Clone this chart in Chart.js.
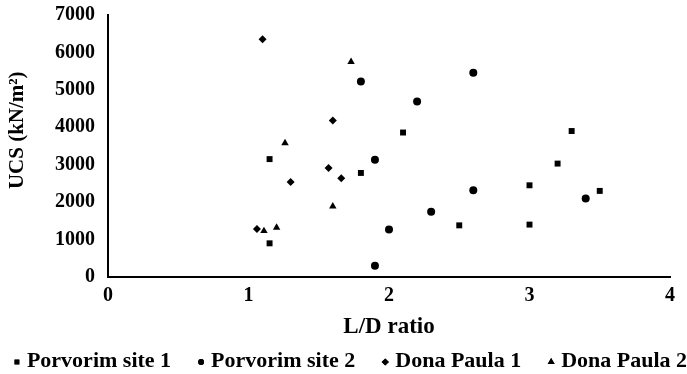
<!DOCTYPE html>
<html>
<head>
<meta charset="utf-8">
<script src="https://cdn.jsdelivr.net/npm/chart.js@4.4.1/dist/chart.umd.min.js"></script>
<style>
  html, body { margin: 0; padding: 0; background: #fff; }
  #wrap { width: 687px; height: 374px; position: relative; }
</style>
</head>
<body>
<div id="wrap"><canvas id="ucsChart"></canvas></div>
<script>
// L/D ratio (x) and UCS in kN/m2 (y) for each site
const porvorim1X = [1.15, 1.15, 1.8, 2.1, 2.5, 3.0, 3.0, 3.2, 3.3, 3.5];
const porvorim1Y = [900, 3150, 2780, 3860, 1380, 1400, 2450, 3030, 3900, 2300];

const porvorim2X = [1.9, 1.9, 1.8, 2.0, 2.2, 2.3, 2.6, 2.6, 3.4];
const porvorim2Y = [300, 3130, 5220, 1270, 4690, 1740, 5460, 2320, 2100];

const donaPaula1X = [1.06, 1.1, 1.3, 1.57, 1.6, 1.66];
const donaPaula1Y = [1280, 6350, 2540, 2910, 4180, 2640];

const donaPaula2X = [1.11, 1.2, 1.26, 1.6, 1.73];
const donaPaula2Y = [1230, 1320, 3580, 1890, 5750];

const seriesNames = ["Porvorim site 1", "Porvorim site 2", "Dona Paula 1", "Dona Paula 2"];
const seriesStyles = ["rect", "circle", "rectRot", "triangle"];

const FONT = '"Liberation Serif", "Times New Roman", serif';

function toPoints(xs, ys) {
  let pts = [];
  for (let i = 0; i < xs.length; i++) {
    pts.push({ x: xs[i], y: ys[i] });
  }
  return pts;
}

const markerRadius = { rect: 4.2, circle: 4, rectRot: 4, triangle: 4.3 };
const legendRadius = { rect: 3.4, circle: 2.9, rectRot: 3.6, triangle: 4 };

const allSeries = [
  toPoints(porvorim1X, porvorim1Y),
  toPoints(porvorim2X, porvorim2Y),
  toPoints(donaPaula1X, donaPaula1Y),
  toPoints(donaPaula2X, donaPaula2Y),
];

const datasets = allSeries.map((pts, i) => ({
  label: seriesNames[i],
  data: pts,
  pointStyle: seriesStyles[i],
  pointRadius: markerRadius[seriesStyles[i]],
  pointHoverRadius: markerRadius[seriesStyles[i]],
  pointBackgroundColor: "#000",
  pointBorderColor: "#000",
  pointBorderWidth: 0,
}));

// legend row drawn under the axis title
const bottomLegend = {
  id: "bottomLegend",
  afterDraw(chart) {
    const ctx = chart.ctx;
    ctx.save();
    ctx.font = "bold 22px " + FONT;
    ctx.fillStyle = "#000";
    ctx.textBaseline = "middle";
    const markerGap = 10;
    const itemGap = 30;
    const widths = seriesNames.map((n) => ctx.measureText(n).width);
    let rowWidth = markerGap * seriesNames.length + itemGap * (seriesNames.length - 1);
    widths.forEach((w) => (rowWidth += w));
    let x = 352 - rowWidth / 2;
    const y = 361;
    for (let i = 0; i < seriesNames.length; i++) {
      Chart.helpers.drawPoint(
        ctx,
        { pointStyle: seriesStyles[i], radius: legendRadius[seriesStyles[i]], borderWidth: 0 },
        x,
        y + 1
      );
      ctx.fill();
      ctx.fillText(seriesNames[i], x + markerGap, y);
      x += markerGap + widths[i] + itemGap;
    }
    ctx.restore();
  },
};

new Chart(document.getElementById("ucsChart"), {
  type: "scatter",
  data: { datasets: datasets },
  plugins: [bottomLegend],
  options: {
    responsive: true,
    maintainAspectRatio: false,
    animation: false,
    events: [],
    layout: { padding: { top: 15, right: 17, bottom: 0, left: 0 } },
    plugins: {
      legend: { display: false },
      tooltip: { enabled: false },
    },
    scales: {
      x: {
        type: "linear",
        min: 0,
        max: 4,
        afterFit: (scale) => {
          scale.height = 97;
        },
        ticks: {
          stepSize: 1,
          padding: 7,
          color: "#000",
          font: { family: FONT, size: 20, weight: "bold" },
        },
        grid: { display: false, drawTicks: false },
        border: { display: true, color: "#000", width: 2 },
        title: {
          display: true,
          text: "L/D ratio",
          color: "#000",
          font: { family: FONT, size: 23, weight: "bold", lineHeight: 1.2 },
          padding: { top: 0, bottom: 33 },
        },
      },
      y: {
        min: 0,
        max: 7000,
        afterFit: (scale) => {
          scale.width = 108;
          // tick padding should not push the plot area down
          scale.paddingTop = 0;
          scale.paddingBottom = 0;
        },
        ticks: {
          stepSize: 1000,
          padding: 13,
          color: "#000",
          font: { family: FONT, size: 20, weight: "bold" },
          callback: (value) => String(value),
        },
        grid: { display: false, drawTicks: false },
        border: { display: true, color: "#000", width: 2 },
        title: {
          display: true,
          // leading spaces lift the rotated title a little, as in the original
          text: "      UCS (kN/m²)",
          color: "#000",
          font: { family: FONT, size: 21, weight: "bold", lineHeight: 1.2 },
          padding: { top: 5, bottom: 0 },
        },
      },
    },
  },
});
</script>
</body>
</html>
